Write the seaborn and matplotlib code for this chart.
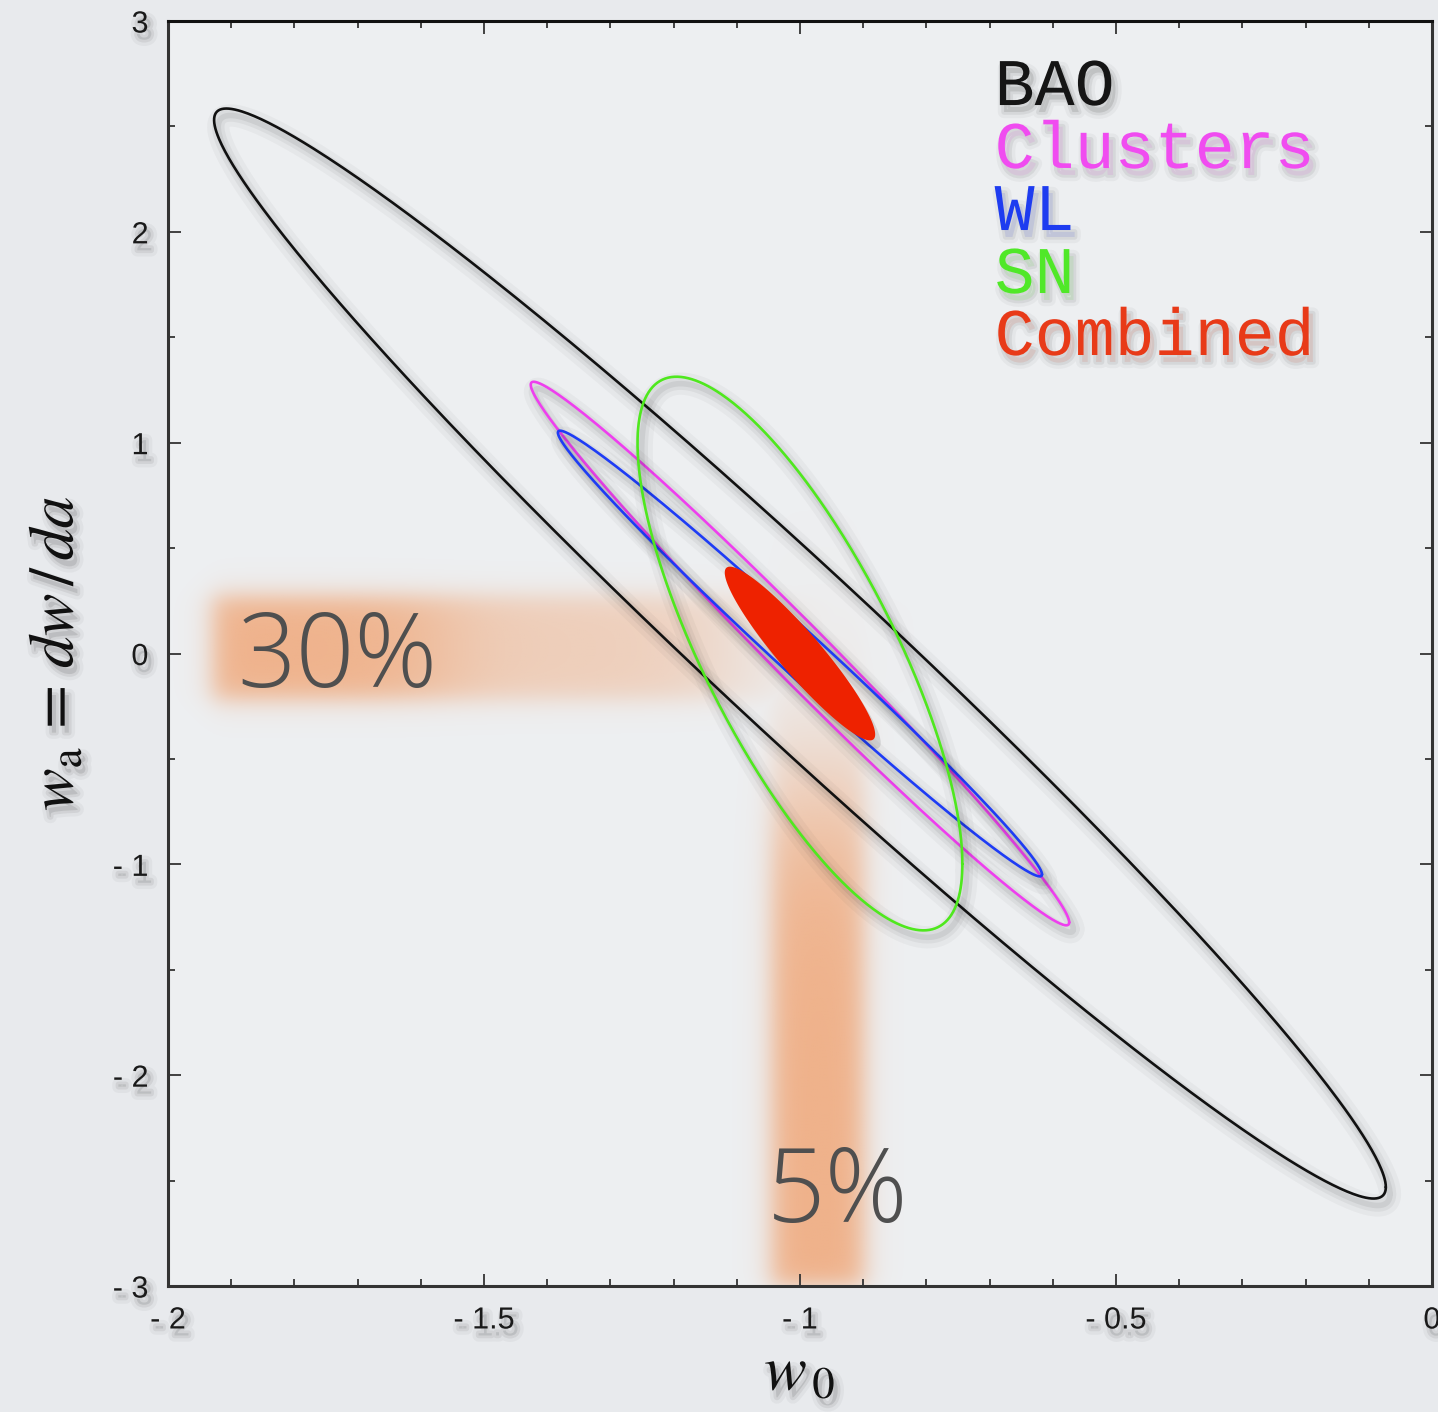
import numpy as np
import pandas as pd
import matplotlib
matplotlib.use("Agg")
import matplotlib.pyplot as plt
import matplotlib.patheffects as pe
from matplotlib.ticker import MultipleLocator, FixedLocator, FixedFormatter
import seaborn as sns

# ---------------- data ----------------
probes = ["BAO", "Clusters", "WL", "SN", "Combined"]
center_w0 = [-1.0, -1.0, -1.0, -1.0, -1.0]
center_wa = [0.0, 0.0, 0.0, 0.0, 0.0]
sigma_w0 = [0.927, 0.426, 0.383, 0.257, 0.119]
sigma_wa = [2.585, 1.289, 1.057, 1.313, 0.412]
corr = [-0.979, -0.989, -0.991, -0.76, -0.931]
line_colors = ["#111111", "#EE3FEE", "#1E3CF5", "#4FE81E", "#EE2200"]
text_colors = ["#151515", "#F04CF0", "#1E3CF0", "#50E828", "#E83A18"]

xtick_vals = [-2, -1.5, -1, -0.5, 0]
xtick_labels = ["- 2", "- 1.5", "- 1", "- 0.5", "0"]
ytick_vals = [-3, -2, -1, 0, 1, 2, 3]
ytick_labels = ["- 3", "- 2", "- 1", "0", "1", "2", "3"]

# highlighted bands (w0/wa ranges) and their labels
hband_w0 = [-1.93, -1.10]
hband_wa = [-0.22, 0.27]
vband_w0 = [-1.045, -0.90]
vband_wa = [-3.0, -0.65]
band_labels = ["30%", "5%"]
band_label_pos = [(-1.891, -0.161), (-1.052, -2.697)]


def ellipse(cx, cy, sx, sy, r, n=600):
    t = np.linspace(0, 2 * np.pi, n)
    cov = np.array([[sx * sx, r * sx * sy], [r * sx * sy, sy * sy]])
    L = np.linalg.cholesky(cov)
    p = L @ np.vstack([np.cos(t), np.sin(t)])
    return cx + p[0], cy + p[1]


rows = []
for i, name in enumerate(probes):
    ex, ey = ellipse(center_w0[i], center_wa[i], sigma_w0[i], sigma_wa[i], corr[i])
    rows.append(pd.DataFrame({"w0": ex, "wa": ey, "probe": name}))
df = pd.concat(rows, ignore_index=True)

# ---------------- style ----------------
sns.set_theme(style="ticks")
plt.rcParams["font.family"] = ["Liberation Sans", "DejaVu Sans"]
plt.rcParams["mathtext.fontset"] = "stix"

bg = "#E8EAED"
fig = plt.figure(figsize=(14.38, 14.12), dpi=100, facecolor=bg)
ax = fig.add_axes([0.1168, 0.0892, 0.879, 0.8959])
ax.set_facecolor("#EDEFF1")
ax.set_xlim(-2, 0)
ax.set_ylim(-3, 3)

# ---------------- bands ----------------
def sstep(t, w):
    return 1.0 / (1.0 + np.exp(-t / w))

gx = np.linspace(-2, 0, 800)
gy = np.linspace(-3, 3, 1200)
X, Y = np.meshgrid(gx, gy)
a_h = (sstep(X - hband_w0[0], 0.012) * sstep(hband_w0[1] - X, 0.06)
       * sstep(Y - hband_wa[0], 0.035) * sstep(hband_wa[1] - Y, 0.035))
a_h = a_h * (0.42 + 0.36 * sstep(-1.57 - X, 0.05))
a_v = (sstep(X - vband_w0[0], 0.012) * sstep(vband_w0[1] - X, 0.012)
       * sstep(Y - vband_wa[0], 0.03) * sstep(vband_wa[1] - Y, 0.25))
a_v = a_v * 0.8
alpha = np.maximum(a_h, a_v)
img = np.zeros(X.shape + (4,))
img[..., 0] = 240 / 255
img[..., 1] = 162 / 255
img[..., 2] = 112 / 255
img[..., 3] = alpha
ax.imshow(img, extent=[-2, 0, -3, 3], origin="lower", aspect="auto",
          interpolation="bilinear", zorder=0.5)

# ---------------- ellipses ----------------
line_df = df[df["probe"] != "Combined"]
palette = dict(zip(probes, line_colors))
sns.lineplot(data=line_df, x="w0", y="wa", hue="probe", units="probe",
             palette=palette, sort=False, estimator=None, legend=False,
             lw=1.9, ax=ax, zorder=3)

shadow = [
    pe.SimpleLineShadow(offset=(3, -5), shadow_color="k", alpha=0.035, rho=1, linewidth=16),
    pe.SimpleLineShadow(offset=(3, -5), shadow_color="k", alpha=0.05, rho=1, linewidth=9),
    pe.SimpleLineShadow(offset=(3, -5), shadow_color="k", alpha=0.07, rho=1, linewidth=4),
    pe.Normal(),
]
for ln in ax.lines:
    ln.set_path_effects(shadow)

comb = df[df["probe"] == "Combined"]
poly = ax.fill(comb["w0"], comb["wa"], color=line_colors[4], zorder=4, lw=0)
for p in poly:
    p.set_path_effects([
        pe.SimplePatchShadow(offset=(4, -6), shadow_rgbFace="k", alpha=0.12),
        pe.Normal(),
    ])

# ---------------- legend-like labels ----------------
text_shadow = [
    pe.Stroke(offset=(3, -5), linewidth=9, foreground="k", alpha=0.04),
    pe.Stroke(offset=(3, -5), linewidth=4, foreground="k", alpha=0.07),
    pe.Normal(),
]
leg_y = [0.9336, 0.8838, 0.8348, 0.7850, 0.7360]
for name, c, yy in zip(probes, text_colors, leg_y):
    ax.text(0.654, yy, name, transform=ax.transAxes, color=c, fontsize=48,
            family=["Liberation Mono", "DejaVu Sans Mono"], ha="left",
            va="baseline", zorder=6, path_effects=text_shadow)

for lab, (px, py) in zip(band_labels, band_label_pos):
    ax.text(px, py, lab, color="#4f4f4f", fontsize=74, fontweight=300,
            family=["Open Sans", "Noto Sans", "DejaVu Sans"], ha="left",
            va="baseline", zorder=5)

# ---------------- axes ----------------
ax.xaxis.set_major_locator(FixedLocator(xtick_vals))
ax.xaxis.set_major_formatter(FixedFormatter(xtick_labels))
ax.yaxis.set_major_locator(FixedLocator(ytick_vals))
ax.yaxis.set_major_formatter(FixedFormatter(ytick_labels))
ax.xaxis.set_minor_locator(MultipleLocator(0.1))
ax.yaxis.set_minor_locator(MultipleLocator(0.5))
ax.tick_params(which="both", direction="in", top=True, right=True,
               color="#333333", width=1.3)
ax.tick_params(which="major", length=9, labelsize=22, pad=14, labelcolor="#1a1a1a")
ax.tick_params(which="minor", length=5)
for lab in ax.get_xticklabels() + ax.get_yticklabels():
    lab.set_path_effects(text_shadow)
for s in ax.spines.values():
    s.set_linewidth(2.2)
    s.set_color("#333333")
ax.spines["top"].set_color("#111111")

ax.set_xlabel(r"$w_{\,0}$", fontsize=46, color="#111111")
ax.set_ylabel(r"$w_{\mathrm{a}} \,=\, dw\,/\,da$", fontsize=46, color="#111111")
ax.xaxis.set_label_coords(0.5, -0.045)
ax.yaxis.set_label_coords(-0.065, 0.5)
ax.xaxis.label.set_path_effects(text_shadow)
ax.yaxis.label.set_path_effects(text_shadow)

fig.savefig("out.png", dpi=100, facecolor=bg)
